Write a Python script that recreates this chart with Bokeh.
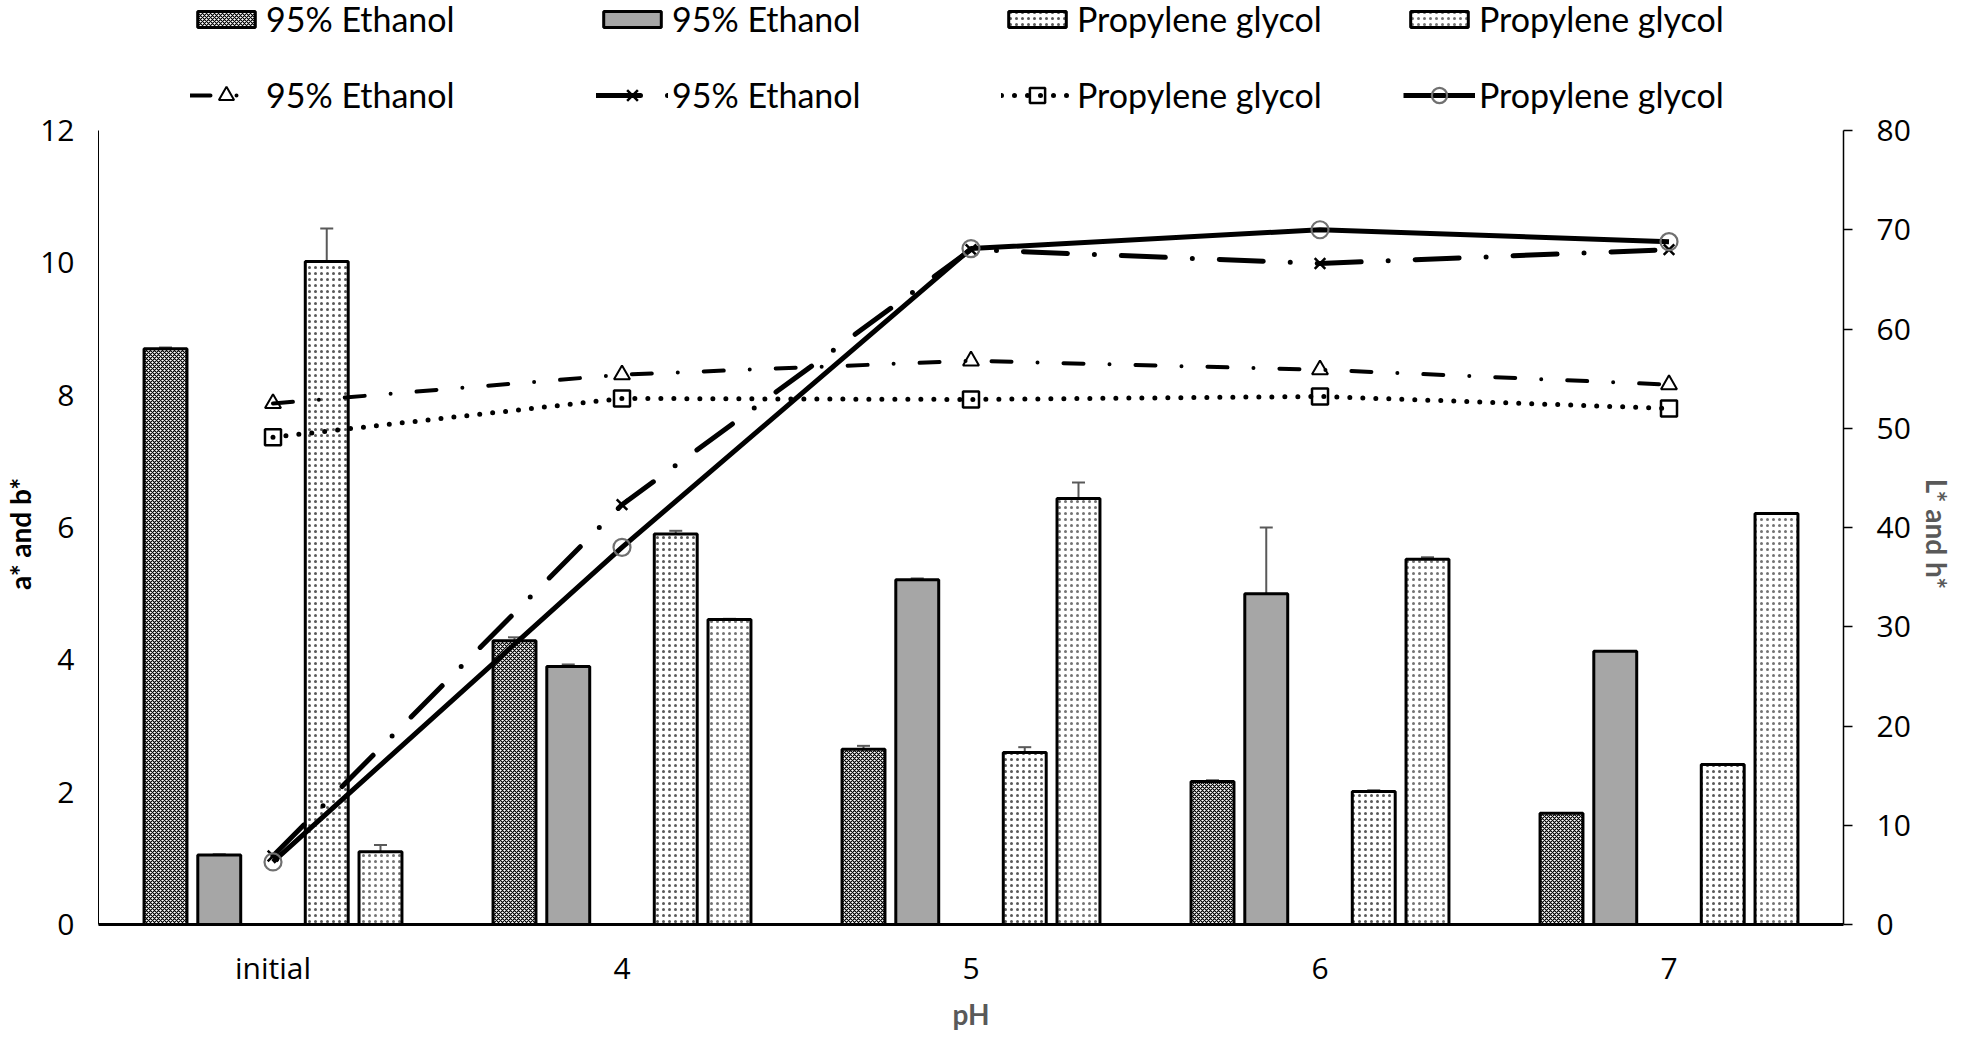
from bokeh.plotting import figure
from bokeh.models import (ColumnDataSource, FactorRange, Range1d, LinearAxis, Legend,
                          LegendItem, Whisker, TeeHead, FixedTicker)
from bokeh.transform import dodge
from bokeh.embed import file_html
from bokeh.resources import INLINE

# ---------------- data ----------------
categories = ["initial", "4", "5", "6", "7"]

# a* and b* (left axis, bars)
eth_bar_a = [8.70, 4.29, 2.65, 2.16, 1.68]
eth_bar_a_err = [0.02, 0.05, 0.05, 0.02, 0.0]
eth_bar_b = [1.05, 3.90, 5.21, 5.00, 4.13]
eth_bar_b_err = [0.01, 0.03, 0.02, 1.00, 0.0]
pg_bar_a = [10.02, 5.90, 2.60, 2.01, 2.42]
pg_bar_a_err = [0.50, 0.05, 0.08, 0.02, 0.0]
pg_bar_b = [1.10, 4.61, 6.44, 5.52, 6.21]
pg_bar_b_err = [0.10, 0.01, 0.24, 0.03, 0.0]

# L* and h* (right axis, lines)
eth_line_tri = [52.5, 55.4, 56.8, 55.9, 54.4]
eth_line_x = [6.9, 42.3, 68.0, 66.6, 68.0]
pg_line_sq = [49.1, 53.0, 52.9, 53.2, 52.0]
pg_line_circ = [6.3, 38.0, 68.1, 70.0, 68.8]

series_labels = ["95% Ethanol", "95% Ethanol", "Propylene glycol", "Propylene glycol"]
left_title = "a* and b*"
right_title = "L* and h*"
x_title = "pH"
left_ticks = [0, 2, 4, 6, 8, 10, 12]
right_ticks = [0, 10, 20, 30, 40, 50, 60, 70, 80]
LEFT_MAX = 12
RIGHT_MAX = 80

FONT = "Lato"
TICK_FONT = "Open Sans"

# ---------------- layout ----------------
AXIS_H = 794          # height of the drawn axes (px)
TOP_SPACE = 130       # legend room above the axes (px)
FRAME_H = AXIS_H + TOP_SPACE
ext = FRAME_H / AXIS_H
NB = "\u00a0"

p = figure(x_range=FactorRange(*categories, range_padding=0),
           y_range=Range1d(0, LEFT_MAX * ext),
           frame_width=1745, frame_height=FRAME_H,
           min_border_left=96, min_border_right=100, min_border_top=0, min_border_bottom=95,
           output_backend="svg", toolbar_location=None, background_fill_color="white")
p.extra_y_ranges = {"L": Range1d(0, RIGHT_MAX * ext)}
p.outline_line_color = None
p.xgrid.visible = False
p.ygrid.visible = False

src = ColumnDataSource(dict(cat=categories,
                            eth_a=eth_bar_a, eth_b=eth_bar_b, pg_a=pg_bar_a, pg_b=pg_bar_b,
                            tri=eth_line_tri, x=eth_line_x, sq=pg_line_sq, circ=pg_line_circ))

BW = 0.123
offs = [-0.308, -0.154, 0.154, 0.308]

b1 = p.vbar(x=dodge("cat", offs[0], range=p.x_range), top="eth_a", width=BW, source=src,
            fill_color="white", hatch_pattern="diagonal_cross", hatch_scale=4, hatch_weight=1.2,
            hatch_color="black", line_color="black", line_width=3)
b2 = p.vbar(x=dodge("cat", offs[1], range=p.x_range), top="eth_b", width=BW, source=src,
            fill_color="#a6a6a6", line_color="black", line_width=3)
b3 = p.vbar(x=dodge("cat", offs[2], range=p.x_range), top="pg_a", width=BW, source=src,
            fill_color="white", hatch_pattern="dot", hatch_scale=6, hatch_weight=1,
            hatch_color="black", hatch_alpha=0.65, line_color="black", line_width=3)
b4 = p.vbar(x=dodge("cat", offs[3], range=p.x_range), top="pg_b", width=BW, source=src,
            fill_color="white", hatch_pattern="dot", hatch_scale=6, hatch_weight=1,
            hatch_color="black", hatch_alpha=0.55, line_color="black", line_width=3)

# error bars
for vals, errs, off in [(eth_bar_a, eth_bar_a_err, offs[0]), (eth_bar_b, eth_bar_b_err, offs[1]),
                        (pg_bar_a, pg_bar_a_err, offs[2]), (pg_bar_b, pg_bar_b_err, offs[3])]:
    cats = [c for c, e in zip(categories, errs) if e > 0]
    up = [v + e for v, e in zip(vals, errs) if e > 0]
    lo = [v - e for v, e in zip(vals, errs) if e > 0]
    es = ColumnDataSource(dict(cat=cats, up=up, lo=lo))
    w = Whisker(base=dodge("cat", off, range=p.x_range), upper="up", lower="lo", source=es,
                line_color="#595959", line_width=2,
                upper_head=TeeHead(size=13, line_color="#595959", line_width=2),
                lower_head=TeeHead(size=13, line_color="#595959", line_width=2))
    p.add_layout(w)

# lines
l_tri = p.line("cat", "tri", source=src, y_range_name="L", line_color="black", line_width=4,
               line_dash="20 26 0 26", line_cap="round")
m_tri = p.scatter("cat", "tri", source=src, y_range_name="L", marker="triangle", size=16,
                  fill_color=None, line_color="black", line_width=2)
l_x = p.line("cat", "x", source=src, y_range_name="L", line_color="black", line_width=5,
             line_dash="44 27 0 27", line_cap="round")
m_x = p.scatter("cat", "x", source=src, y_range_name="L", marker="x", size=15,
                line_color="black", line_width=2.5)
l_sq = p.line("cat", "sq", source=src, y_range_name="L", line_color="black", line_width=5,
              line_dash="0 13", line_cap="round")
m_sq = p.scatter("cat", "sq", source=src, y_range_name="L", marker="square", size=16,
                 fill_color=None, line_color="black", line_width=2.5)
l_circ = p.line("cat", "circ", source=src, y_range_name="L", line_color="black", line_width=5)
m_circ = p.scatter("cat", "circ", source=src, y_range_name="L", marker="circle", size=17,
                   fill_color=None, line_color="#707070", line_width=2.2)

# ---------------- axes ----------------
ax_l = p.yaxis[0]
ax_l.ticker = FixedTicker(ticks=left_ticks)
ax_l.bounds = (0, LEFT_MAX)
ax_l.major_tick_out = 0
ax_l.major_tick_in = 0
ax_l.minor_tick_out = 0
ax_l.minor_tick_in = 0
ax_l.axis_line_width = 1
ax_l.axis_line_color = "black"
ax_l.major_label_standoff = 24
ax_l.major_label_text_font = TICK_FONT
ax_l.major_label_text_font_size = "30px"
ax_l.major_label_text_color = "black"
ax_l.axis_label = left_title + NB * 21
ax_l.axis_label_text_font = FONT
ax_l.axis_label_text_font_style = "bold"
ax_l.axis_label_text_font_size = "28px"
ax_l.axis_label_text_color = "black"
ax_l.axis_label_standoff = 0

ax_r = LinearAxis(y_range_name="L", ticker=FixedTicker(ticks=right_ticks), bounds=(0, RIGHT_MAX))
ax_r.major_tick_out = 9
ax_r.major_tick_in = 0
ax_r.minor_tick_out = 0
ax_r.minor_tick_in = 0
ax_r.major_tick_line_width = 1.5
ax_r.axis_line_width = 1.5
ax_r.major_label_standoff = 24
ax_r.major_label_text_font = TICK_FONT
ax_r.major_label_text_font_size = "30px"
ax_r.major_label_text_color = "black"
ax_r.axis_label = NB * 21 + right_title
ax_r.axis_label_text_font = FONT
ax_r.axis_label_text_font_style = "bold"
ax_r.axis_label_text_font_size = "28px"
ax_r.axis_label_text_color = "#595959"
ax_r.axis_label_standoff = 6
p.add_layout(ax_r, "right")

ax_b = p.xaxis[0]
ax_b.major_tick_out = 0
ax_b.major_tick_in = 0
ax_b.axis_line_width = 3
ax_b.axis_line_color = "black"
ax_b.major_label_standoff = 22
ax_b.major_label_text_font = TICK_FONT
ax_b.major_label_text_font_size = "30px"
ax_b.major_label_text_color = "black"
ax_b.axis_label = x_title
ax_b.axis_label_text_font = FONT
ax_b.axis_label_text_font_style = "bold"
ax_b.axis_label_text_font_size = "28px"
ax_b.axis_label_text_color = "#595959"
ax_b.axis_label_standoff = 6

# ---------------- legend (4 columns x 2 rows, above the axes) ----------------
bar_rs = [b1, b2, b3, b4]
line_rs = [[l_tri, m_tri], [l_x, m_x], [l_sq, m_sq], [l_circ, m_circ]]
col_x = [92, 498, 903, 1305]
ITEM_H = 41
ROW_TOPS = [-2, 74]


def add_legend_item(label, renderers, cx, row_top, glyph_h):
    lg = Legend(items=[LegendItem(label=label, renderers=renderers)],
                location=(cx, FRAME_H - row_top - ITEM_H), orientation="vertical",
                padding=0, margin=0, spacing=0,
                glyph_width=72, glyph_height=glyph_h, label_height=ITEM_H, label_standoff=4,
                label_text_font=FONT, label_text_font_size="34px", label_text_color="black",
                border_line_color=None, background_fill_alpha=0)
    p.add_layout(lg)


for lab, br, lr, cx in zip(series_labels, bar_rs, line_rs, col_x):
    add_legend_item(lab, [br], cx, ROW_TOPS[0], 20)
    add_legend_item(lab, lr, cx, ROW_TOPS[1], 38)

open("out.html", "w").write(file_html(p, INLINE))
